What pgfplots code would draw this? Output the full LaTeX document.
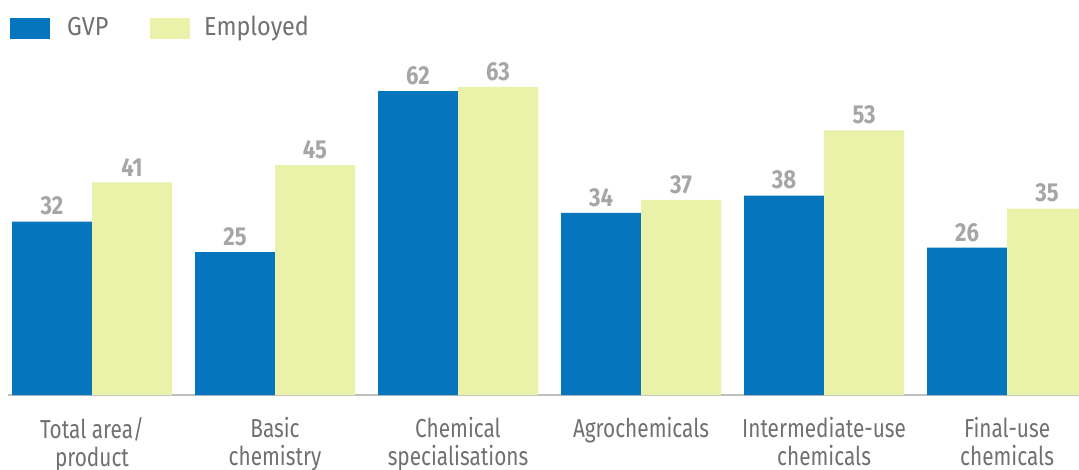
\documentclass[border=0pt]{standalone}
\usepackage{fontspec}
\setmainfont{Fira Sans}
\newfontfamily\cond{Fira Sans}[FakeStretch=0.8]
\newfontfamily\condl{Fira Sans}[FakeStretch=0.9]
\newfontfamily\condv{Fira Sans}[FakeStretch=0.85]
\usepackage{pgfplots}
\pgfplotsset{compat=1.18}
\definecolor{gvp}{HTML}{0575BE}
\definecolor{emp}{HTML}{E9F2A8}
\definecolor{lbl}{HTML}{A6A6A6}
\definecolor{txt}{HTML}{707070}
\begin{document}
\begin{tikzpicture}[x=1pt,y=1pt]
\useasboundingbox (0,0) rectangle (1079,469);
\begin{axis}[
  at={(8pt,74pt)}, anchor=south west,
  scale only axis, width=1071pt, height=350pt,
  ybar=0pt, bar width=80pt,
  xmin=-0.459, xmax=5.393, ymin=0, ymax=80.46,
  y filter/.expression={y+7.86},
  axis x line=bottom, axis y line=none,
  axis line style={-, draw=black!25, line width=1.5pt},
  xtick={0,...,5}, xtick style={draw=none},
  xticklabels={{Total area/\\product},{Basic\\chemistry},{Chemical\\specialisations},{Agrochemicals},{Intermediate-use\\chemicals},{Final-use\\chemicals}},
  xticklabel style={font=\cond\fontsize{26}{28}\selectfont, text=txt, align=center, anchor=north, inner sep=0pt, yshift=-20pt},
  ytick=\empty,
  /pgf/number format/assume math mode=true,
  point meta=rawy,
  nodes near coords,
  nodes near coords style={font=\condv\fontsize{26}{26}\selectfont\bfseries, text=lbl, anchor=south, inner sep=0pt, yshift=6pt},
]
\addplot[fill=gvp, draw=none] coordinates {(0,32) (1,25) (2,62) (3,34) (4,38) (5,26)};
\addplot[fill=emp, draw=none] coordinates {(0,41) (1,45) (2,63) (3,37) (4,53) (5,35)};
\end{axis}
\fill[gvp] (10,430) rectangle (50,451);
\node[anchor=base west, inner sep=0pt, text=txt, font=\condl\fontsize{26}{26}\selectfont] at (67,433) {GVP};
\fill[emp] (150,430) rectangle (190,451);
\node[anchor=base west, inner sep=0pt, text=txt, font=\condl\fontsize{26}{26}\selectfont] at (204,433) {Employed};
\end{tikzpicture}
\end{document}
